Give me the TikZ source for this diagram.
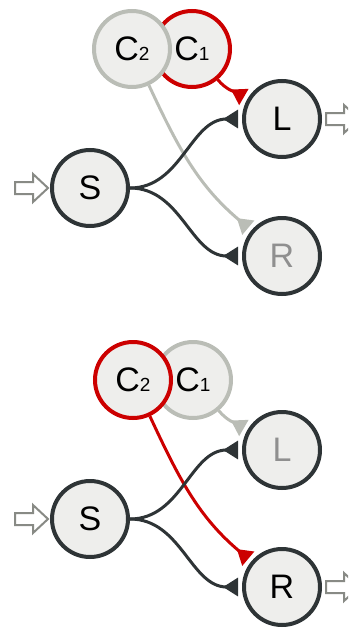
\documentclass[tikz,border=0pt]{standalone}
\usepackage{fontspec}
\setmainfont{Liberation Sans}
\usetikzlibrary{arrows.meta}

\definecolor{nodefill}{HTML}{EEEEEC}
\definecolor{ringdark}{HTML}{2E3436}
\definecolor{ctlred}{HTML}{CC0000}
\definecolor{ctlgrey}{HTML}{BABDB6}
\definecolor{dimtext}{HTML}{8F8F8F}
\definecolor{iogrey}{HTML}{888A85}

\newcommand{\sub}[1]{{\fontsize{19pt}{19pt}\selectfont #1}}

\tikzset{
  state/.style={circle, minimum size=76pt, inner sep=0pt, line width=4pt,
    fill=nodefill, draw=ringdark, font=\fontsize{34pt}{34pt}\selectfont},
  ctlon/.style={state, draw=ctlred},
  ctloff/.style={state, draw=ctlgrey},
  dim/.style={text=dimtext},
  wire/.style={line width=3pt, shorten >=4pt,
    -{Triangle[reversed, length=15pt, width=18pt]}},
  flow/.style={wire, draw=ringdark},
  redwire/.style={wire, draw=ctlred},
  greywire/.style={wire, draw=ctlgrey},
  ioarrow/.pic={
    \draw[draw=iogrey, fill=white, line width=2pt, line join=miter]
      (0,0) -- (-15,-14) -- (-15,-6) -- (-33,-6) -- (-33,6) -- (-15,6)
      -- (-15,14) -- cycle;
  }
}

\begin{document}
\begin{tikzpicture}[x=1pt, y=-1pt]
  \useasboundingbox (0,0) rectangle (348,629);
  \clip (0,0) rectangle (348,629);

  % upper switch: C1 selects L
  \node[ctlon]  (tc1) at (192,49)  {C\sub{1}};
  \node[ctloff] (tc2) at (132,49)  {C\sub{2}};
  \node[state]  (tl)  at (282,119) {L};
  \node[state, dim] (tr) at (282,256) {R};
  \node[state]  (ts)  at (90,188)  {S};

  \draw[redwire]  (tc1) to[out=-50, in=150] (tl);
  \draw[greywire] (tc2) to[out=-65, in=140] (tr);
  \draw[flow] (ts) to[out=0, in=180] (tl);
  \draw[flow] (ts) to[out=0, in=180] (tr);

  \pic at ([xshift=-2pt]ts.west) {ioarrow};
  \pic at ([xshift=37pt]tl.east) {ioarrow};

  % lower switch: C2 selects R
  \node[ctloff] (bc1) at (193,380) {C\sub{1}};
  \node[ctlon]  (bc2) at (133,380) {C\sub{2}};
  \node[state, dim] (bl) at (282,450) {L};
  \node[state]  (br)  at (282,587) {R};
  \node[state]  (bs)  at (90,519)  {S};

  \draw[greywire] (bc1) to[out=-50, in=150] (bl);
  \draw[redwire]  (bc2) to[out=-65, in=140] (br);
  \draw[flow] (bs) to[out=0, in=180] (bl);
  \draw[flow] (bs) to[out=0, in=180] (br);

  \pic at ([xshift=-2pt]bs.west) {ioarrow};
  \pic at ([xshift=37pt]br.east) {ioarrow};
\end{tikzpicture}
\end{document}
